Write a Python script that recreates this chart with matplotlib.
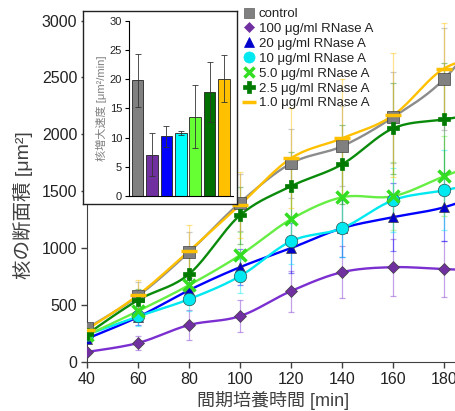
# 核の断面積の経時変化 (RNase A 濃度別) + 核増大速度の挿入棒グラフ
import numpy as np
import matplotlib
matplotlib.use("Agg")
import matplotlib.pyplot as plt
from matplotlib.lines import Line2D

plt.rcParams['font.family'] = ['Liberation Sans', 'Noto Sans CJK JP', 'DejaVu Sans']

# ----------- datos -------------
tiempo = [40, 60, 80, 100, 120, 140, 160, 180, 200]

etiquetas = ["control", "100 μg/ml RNase A", "20 μg/ml RNase A", "10 μg/ml RNase A",
             "5.0 μg/ml RNase A", "2.5 μg/ml RNase A", "1.0 μg/ml RNase A"]

control   = [295, 580, 965, 1400, 1745, 1895, 2150, 2485, 3050]
rn100     = [88, 167, 325, 403, 623, 789, 833, 816, 800]
rn20      = [205, 395, 631, 833, 1000, 1175, 1272, 1359, 1520]
rn10      = [240, 400, 552, 754, 1061, 1175, 1421, 1508, 1600]
rn5       = [235, 447, 675, 938, 1254, 1447, 1456, 1631, 1800]
rn25      = [245, 544, 772, 1289, 1544, 1736, 2052, 2131, 2200]
rn1       = [285, 588, 975, 1380, 1790, 1965, 2166, 2578, 2700]

err_control = [40, 120, 180, 250, 300, 350, 400, 450, 450]
err_rn100   = [20, 60, 130, 140, 180, 230, 250, 245, 245]
err_rn20    = [40, 70, 110, 160, 220, 250, 300, 300, 300]
err_rn10    = [40, 80, 100, 150, 200, 250, 280, 350, 350]
err_rn5     = [40, 80, 120, 200, 250, 300, 300, 350, 350]
err_rn25    = [50, 100, 150, 250, 300, 350, 400, 500, 500]
err_rn1     = [60, 130, 225, 290, 440, 520, 545, 400, 400]

# velocidad de crecimiento (inset)
velocidad     = [19.8, 7.1, 10.2, 10.8, 13.6, 17.8, 20.1]
err_velocidad = [4.5, 3.7, 1.8, 0.3, 5.4, 5.2, 4.0]

# ----------- colores -------------
COL_LINEA = ["#8c8c8c", "#7b2fd0", "#0000ff", "#00e8f0", "#66ee44", "#0a8a0a", "#ffc000"]
COL_MARCA = ["#808080", "#7030a0", "#0000cc", "#00e8f0", "#33dd22", "#007a00", "#ffc000"]
COL_BARRA = ["#808080", "#7030a0", "#0000ff", "#00ffff", "#66ff33", "#007000", "#ffc000"]
MARCAS = ["s", "D", "^", "o", "x", "P", "_"]
TAM = [8, 6.5, 7.5, 9, 8, 9, 11]
COL_TEXTO = "#404040"


def curva_suave(x, y, n=20):
    # dibujo con curva tipo Excel (bezier tipo Catmull-Rom)
    x = np.asarray(x, float)
    y = np.asarray(y, float)
    px = np.concatenate([[x[0]], x, [x[-1]]])
    py = np.concatenate([[y[0]], y, [y[-1]]])
    xs, ys = [], []
    t = np.linspace(0, 1, n)
    for i in range(1, len(px) - 2):
        p0 = np.array([px[i], py[i]])
        p3 = np.array([px[i + 1], py[i + 1]])
        p1 = p0 + (np.array([px[i + 1], py[i + 1]]) - np.array([px[i - 1], py[i - 1]])) / 6
        p2 = p3 - (np.array([px[i + 2], py[i + 2]]) - np.array([px[i], py[i]])) / 6
        b = ((1 - t) ** 3)[:, None] * p0 + (3 * (1 - t) ** 2 * t)[:, None] * p1 \
            + (3 * (1 - t) * t ** 2)[:, None] * p2 + (t ** 3)[:, None] * p3
        xs.extend(b[:, 0])
        ys.extend(b[:, 1])
    return xs, ys


fig = plt.figure(figsize=(4.56, 4.11), dpi=100)
ax = fig.add_axes([87 / 456, 1 - 362 / 411, 1 - 87 / 456, (362 - 20.5) / 411])

series = [control, rn100, rn20, rn10, rn5, rn25, rn1]
errores = [err_control, err_rn100, err_rn20, err_rn10, err_rn5, err_rn25, err_rn1]
orden = [1, 2, 3, 4, 5, 0, 6]

for i in orden:
    ax.errorbar(tiempo, series[i], yerr=errores[i], fmt="none", ecolor=COL_LINEA[i],
                elinewidth=0.9, capsize=2.5, capthick=0.9, alpha=0.45, zorder=2)
for i in orden:
    xs, ys = curva_suave(tiempo, series[i])
    ax.plot(xs, ys, color=COL_LINEA[i], linewidth=1.7, zorder=3 + i * 0.1)
    if MARCAS[i] in ("x", "_", "P"):
        ax.plot(tiempo, series[i], linestyle="none", marker=MARCAS[i], ms=TAM[i],
                color=COL_MARCA[i], mew=2.5 if MARCAS[i] != "P" else 0.5,
                mec=COL_MARCA[i], zorder=4 + i * 0.1)
    else:
        ax.plot(tiempo, series[i], linestyle="none", marker=MARCAS[i], ms=TAM[i],
                color=COL_MARCA[i], mec="#305050" if i == 3 else "#404040", mew=0.5,
                zorder=4 + i * 0.1)

ax.set_xlim(40, 184.7)
ax.set_ylim(0, 3000)
ax.set_xticks([40, 60, 80, 100, 120, 140, 160, 180])
ax.set_yticks(range(0, 3001, 500))
ax.tick_params(direction="out", length=4, width=1, color=COL_TEXTO, labelsize=11.5,
               labelcolor="#222222", pad=3)
for s in ["top", "right"]:
    ax.spines[s].set_visible(False)
for s in ["left", "bottom"]:
    ax.spines[s].set_color(COL_TEXTO)
ax.set_xlabel("間期培養時間 [min]", fontsize=13, color=COL_TEXTO, labelpad=1)
ax.set_ylabel("核の断面積 [μm²]", fontsize=14, color=COL_TEXTO)
ax.xaxis.set_label_coords(0.505, -0.085)
ax.yaxis.set_label_coords(-0.145, 0.46)

# leyenda
manejadores = []
for i in range(7):
    if MARCAS[i] in ("x", "_"):
        h = Line2D([], [], linestyle="none", marker=MARCAS[i], ms=TAM[i] - 1, color=COL_MARCA[i], mew=2.5)
    else:
        h = Line2D([], [], linestyle="none", marker=MARCAS[i], ms=TAM[i] - 1, color=COL_MARCA[i],
                   mec=COL_MARCA[i] if i != 0 else "#606060", mew=0.5)
    manejadores.append(h)
leg = fig.legend(manejadores, etiquetas, loc="upper left", bbox_to_anchor=(244 / 456, 1 - 8 / 411),
                 frameon=False, fontsize=9.5, handlelength=0.8, handletextpad=0.3,
                 labelspacing=0.2, borderaxespad=0, borderpad=0)
for t in leg.get_texts():
    t.set_color("#222222")

# recuadro del inset
marco = fig.add_axes([83 / 456, 1 - 204 / 411, 154 / 456, 193 / 411])
marco.set_xticks([])
marco.set_yticks([])
marco.set_facecolor("white")
for s in marco.spines.values():
    s.set_color("#222222")
    s.set_linewidth(1)

# grafico de barras
axb = fig.add_axes([129 / 456, 1 - 196 / 411, 104 / 456, 175 / 411])
axb.bar(range(len(velocidad)), velocidad, width=0.8, color=COL_BARRA, edgecolor="#222222",
        linewidth=0.6, yerr=err_velocidad, error_kw=dict(ecolor="#333333", elinewidth=0.6,
                                                          capsize=2.5, capthick=0.6))
axb.set_xlim(-0.6, 6.62)
axb.set_ylim(0, 30)
axb.set_yticks(range(0, 31, 5))
axb.set_xticks([])
axb.tick_params(direction="out", length=3, width=0.8, labelsize=8, labelcolor="#222222", pad=2)
axb.spines["top"].set_visible(False)
axb.spines["right"].set_visible(False)
axb.set_ylabel("核増大速度 [μm²/min]", fontsize=8, color="#808080", labelpad=2)
axb.set_facecolor("none")

fig.savefig("out.png", dpi=100)
